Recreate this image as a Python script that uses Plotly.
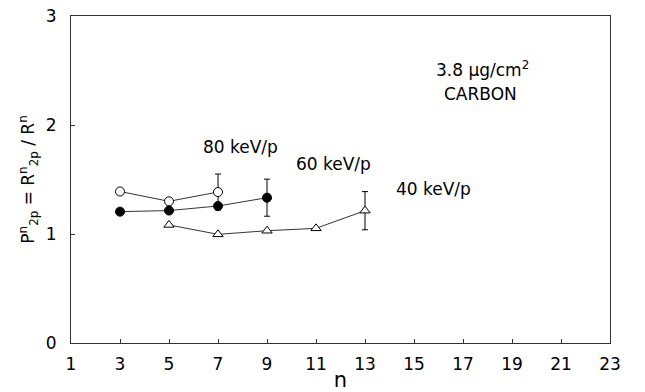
import plotly.graph_objects as go

# 80 keV/p (open circles)
n80 = [3, 5, 7]
p80 = [1.39, 1.30, 1.385]
e80 = [0, 0, 0.165]
# 60 keV/p (filled circles)
n60 = [3, 5, 7, 9]
p60 = [1.205, 1.215, 1.257, 1.333]
e60 = [0, 0, 0, 0.17]
# 40 keV/p (open triangles)
n40 = [5, 7, 9, 11, 13]
p40 = [1.083, 0.997, 1.03, 1.052, 1.214]
e40 = [0, 0, 0, 0, 0.175]

xticks = list(range(1, 24, 2))
yticks = [0, 1, 2, 3]

FONT = "DejaVu Sans"

def err(vals):
    return dict(type="data", array=vals, visible=True, color="black",
                thickness=1, width=3)

fig = go.Figure()
fig.add_trace(go.Scatter(x=n40, y=p40, mode="lines+markers", error_y=err(e40),
                         line=dict(color="black", width=0.8),
                         marker=dict(symbol="triangle-up", size=9, color="white",
                                     line=dict(color="black", width=1))))
fig.add_trace(go.Scatter(x=n60, y=p60, mode="lines+markers", error_y=err(e60),
                         line=dict(color="black", width=0.8),
                         marker=dict(symbol="circle", size=9, color="black",
                                     line=dict(color="black", width=1))))
fig.add_trace(go.Scatter(x=n80, y=p80, mode="lines+markers", error_y=err(e80),
                         line=dict(color="black", width=0.8),
                         marker=dict(symbol="circle", size=9, color="white",
                                     line=dict(color="black", width=1))))

annots = [
    dict(x=7.9, y=1.8, text="80 keV/p"),
    dict(x=11.7, y=1.64, text="60 keV/p"),
    dict(x=15.8, y=1.41, text="40 keV/p"),
    dict(x=17.8, y=2.51, text="3.8 \u03bcg/cm<sup>2</sup>"),
    dict(x=17.7, y=2.28, text="CARBON"),
]
for a in annots:
    fig.add_annotation(x=a["x"], y=a["y"], text=a["text"], showarrow=False,
                       font=dict(family=FONT, size=17, color="black"))

axis_common = dict(showline=True, linecolor="#333", linewidth=1, mirror=True,
                   ticks="inside", ticklen=4, tickcolor="#333", showgrid=False,
                   zeroline=False, automargin=False, ticklabeloverflow="allow",
                   tickfont=dict(family=FONT, size=17, color="black"))

fig.update_xaxes(range=[1, 23], tickvals=xticks, ticktext=[str(v) for v in xticks],
                 title=dict(text="n", font=dict(family=FONT, size=21, color="black"),
                            standoff=6),
                 ticklabelstandoff=6, **axis_common)
fig.update_yaxes(range=[0, 3], tickvals=yticks, ticktext=[str(v) for v in yticks],
                 title=dict(text="P<sup>n</sup><sub>2p</sub> = R<sup>n</sup><sub>2p</sub> / R<sup>n</sup>",
                            font=dict(family=FONT, size=17, color="black"),
                            standoff=6),
                 ticklabelstandoff=10, **axis_common)

# page body has an 8px margin, so the figure is sized to fit the 645x392 window
fig.update_layout(width=637, height=384, showlegend=False,
                  margin=dict(l=63, r=35, t=8, b=49),
                  plot_bgcolor="white", paper_bgcolor="white")

fig.write_html("out.html")
